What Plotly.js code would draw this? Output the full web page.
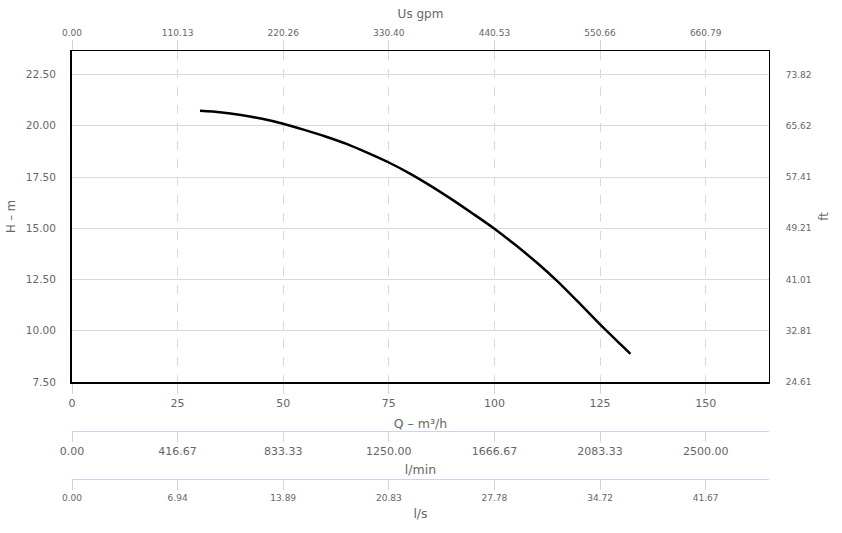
<!DOCTYPE html>
<html>
<head>
<meta charset="utf-8">
<script src="https://cdn.plot.ly/plotly-3.0.1.min.js"></script>
<style>html,body{margin:0;padding:0;background:#fff;}#chart{width:842px;height:533px;}</style>
</head>
<body>
<div id="chart"></div>
<script>
// Pump curve: flow Q (m³/h) vs head H (m)
const flowQ = [30.3, 35, 40, 45, 50, 55, 60, 65, 70, 75, 80, 85, 90, 95, 100, 105, 110, 115, 120, 125, 130, 132.2];
const headH = [20.73, 20.66, 20.53, 20.34, 20.10, 19.80, 19.48, 19.12, 18.68, 18.21, 17.67, 17.06, 16.40, 15.70, 14.98, 14.18, 13.33, 12.40, 11.37, 10.31, 9.31, 8.87];

const qTicks = [0, 25, 50, 75, 100, 125, 150];
const gpmLabels = ["0.00", "110.13", "220.26", "330.40", "440.53", "550.66", "660.79"];
const lpmLabels = ["0.00", "416.67", "833.33", "1250.00", "1666.67", "2083.33", "2500.00"];
const lpsLabels = ["0.00", "6.94", "13.89", "20.83", "27.78", "34.72", "41.67"];

const hTicks = [7.5, 10, 12.5, 15, 17.5, 20, 22.5];
const hLabels = ["7.50", "10.00", "12.50", "15.00", "17.50", "20.00", "22.50"];
const ftLabels = ["24.61", "32.81", "41.01", "49.21", "57.41", "65.62", "73.82"];

const xRange = [0, 165];
const yRange = [7.5, 23.65];

const FONT = "DejaVu Sans, Verdana, sans-serif";
const TXT = "#666666";
const TICKC = "#ccd6eb";

const traces = [
  {x: flowQ, y: headH, xaxis: "x", yaxis: "y", mode: "lines",
   line: {color: "#000000", width: 2.5, shape: "spline", smoothing: 0.6}, hoverinfo: "skip", showlegend: false},
  {x: flowQ, y: headH, xaxis: "x2", yaxis: "y", mode: "lines", opacity: 0, line: {width: 0}, hoverinfo: "skip", showlegend: false},
  {x: flowQ, y: headH, xaxis: "x3", yaxis: "y", mode: "lines", opacity: 0, line: {width: 0}, hoverinfo: "skip", showlegend: false},
  {x: flowQ, y: headH, xaxis: "x4", yaxis: "y", mode: "lines", opacity: 0, line: {width: 0}, hoverinfo: "skip", showlegend: false},
  {x: flowQ, y: headH, xaxis: "x", yaxis: "y2", mode: "lines", opacity: 0, line: {width: 0}, hoverinfo: "skip", showlegend: false}
];

const yDomain = [0.2266, 1];

const layout = {
  width: 842, height: 533,
  margin: {l: 72, r: 73, t: 51, b: 54, pad: 0},
  paper_bgcolor: "#ffffff", plot_bgcolor: "#ffffff",
  font: {family: FONT, color: TXT, size: 11},
  showlegend: false,
  xaxis: {
    range: xRange, tickvals: qTicks, ticktext: qTicks.map(String),
    anchor: "y", side: "bottom",
    showgrid: true, gridcolor: "#d9d9d9", griddash: "dash", gridwidth: 1,
    zeroline: false, showline: true, linecolor: "#000000", linewidth: 2,
    ticks: "outside", ticklen: 10, tickcolor: TICKC, tickwidth: 1,
    tickfont: {size: 11, color: TXT},
    title: {text: "Q – m³/h", font: {size: 12.5, color: TXT}, standoff: 10}
  },
  xaxis2: {
    range: xRange, tickvals: qTicks, ticktext: gpmLabels,
    overlaying: "x", anchor: "y", side: "top",
    showgrid: false, zeroline: false, showline: true, linecolor: "#000000", linewidth: 1,
    ticks: "outside", ticklen: 10, tickcolor: TICKC, tickwidth: 1,
    tickfont: {size: 9, color: TXT},
    title: {text: "Us gpm", font: {size: 12, color: TXT}, standoff: 7}
  },
  xaxis3: {
    range: xRange, tickvals: qTicks, ticktext: lpmLabels,
    overlaying: "x", anchor: "free", position: 0.1128, side: "bottom",
    showgrid: false, zeroline: false, showline: true, linecolor: TICKC, linewidth: 1,
    ticks: "outside", ticklen: 10, tickcolor: TICKC, tickwidth: 1,
    tickfont: {size: 11, color: TXT},
    title: {text: "l/min", font: {size: 12.5, color: TXT}, standoff: 8}
  },
  xaxis4: {
    range: xRange, tickvals: qTicks, ticktext: lpsLabels,
    overlaying: "x", anchor: "free", position: 0, side: "bottom",
    showgrid: false, zeroline: false, showline: true, linecolor: TICKC, linewidth: 1,
    ticks: "outside", ticklen: 10, tickcolor: TICKC, tickwidth: 1,
    tickfont: {size: 9, color: TXT},
    title: {text: "l/s", font: {size: 12.5, color: TXT}, standoff: 7}
  },
  yaxis: {
    range: yRange, domain: yDomain, tickvals: hTicks, ticktext: hLabels,
    anchor: "x", side: "left",
    showgrid: true, gridcolor: "#d9d9d9", gridwidth: 1,
    zeroline: false, showline: true, linecolor: "#000000", linewidth: 2,
    ticks: "", ticklabelstandoff: 12,
    tickfont: {size: 10.5, color: TXT},
    title: {text: "H – m", font: {size: 11.5, color: TXT}, standoff: 8}
  },
  yaxis2: {
    range: yRange, domain: yDomain, tickvals: hTicks, ticktext: ftLabels,
    overlaying: "y", anchor: "x", side: "right",
    showgrid: false, zeroline: false, showline: true, linecolor: "#000000", linewidth: 1,
    ticks: "", ticklabelstandoff: 14,
    tickfont: {size: 9, color: TXT},
    title: {text: "ft", font: {size: 11.5, color: TXT}, standoff: 9}
  }
};

Plotly.newPlot("chart", traces, layout, {displayModeBar: false, staticPlot: true});
</script>
</body>
</html>
